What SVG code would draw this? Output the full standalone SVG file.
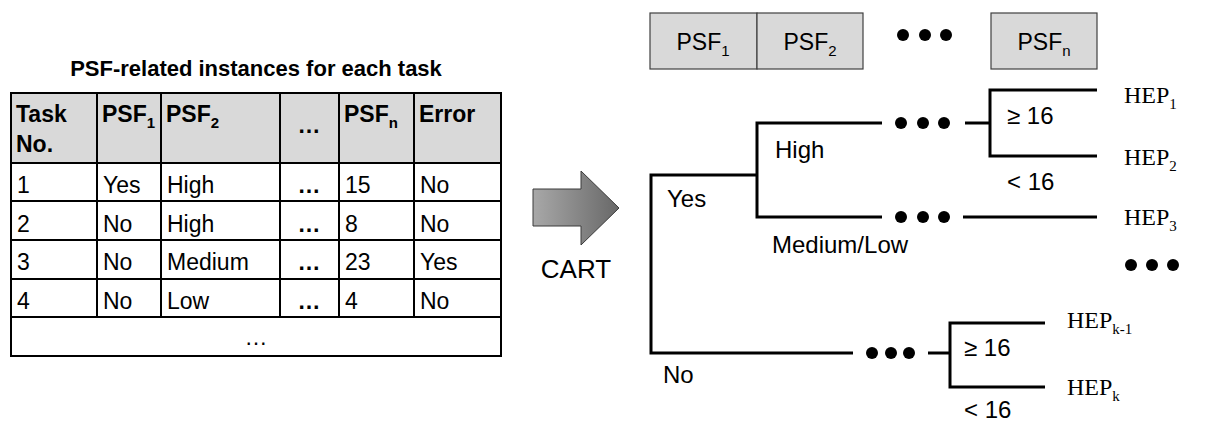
<svg xmlns="http://www.w3.org/2000/svg" width="1206" height="422" viewBox="0 0 1206 422">
<style>
text{font-family:"Liberation Sans",Arial,sans-serif;fill:#000}
.t{font-size:23px}
.b{font-weight:bold}
.ttl{font-size:22px;font-weight:bold}
.lbl{font-size:24px}
.hep{font-family:"Liberation Serif","Times New Roman",serif;font-size:24px}
.sub{font-size:15px}
.grid{stroke:#000;stroke-width:2;fill:none}
.hdr{fill:#d9d9d9}
.box{fill:#d9d9d9;stroke:#404040;stroke-width:1.2}
.ln{stroke:#000;stroke-width:3;fill:none}
.dot{fill:#000}
</style>
<defs>
<linearGradient id="ag" x1="0" y1="0" x2="1" y2="0">
<stop offset="0" stop-color="#a8a8a8"/>
<stop offset="1" stop-color="#686868"/>
</linearGradient>
</defs>
<rect width="1206" height="422" fill="#fff"/>

<g id="table">
<text class="ttl" x="256" y="76" text-anchor="middle">PSF-related instances for each task</text>
<rect class="hdr" x="11" y="93" width="490" height="70"/>
<rect class="grid" x="11" y="93" width="490" height="263"/>
<path class="grid" d="M11,163H501M11,201H501M11,240H501M11,279H501M11,317H501M97,93V317M161,93V317M280,93V317M339,93V317M414,93V317"/>
<text class="t b" x="16" y="122">Task</text>
<text class="t b" x="16" y="152">No.</text>
<text class="t b" x="102" y="122">PSF<tspan class="sub" dy="6">1</tspan></text>
<text class="t b" x="166" y="122">PSF<tspan class="sub" dy="6">2</tspan></text>
<text class="t b" x="309" y="133" text-anchor="middle">…</text>
<text class="t b" x="344" y="122">PSF<tspan class="sub" dy="6">n</tspan></text>
<text class="t b" x="419" y="122">Error</text>

<text class="t" x="17" y="193">1</text>
<text class="t" x="103" y="193">Yes</text>
<text class="t" x="167" y="193">High</text>
<text class="t b" x="309" y="193" text-anchor="middle">…</text>
<text class="t" x="345" y="193">15</text>
<text class="t" x="420" y="193">No</text>

<text class="t" x="17" y="232">2</text>
<text class="t" x="103" y="232">No</text>
<text class="t" x="167" y="232">High</text>
<text class="t b" x="309" y="232" text-anchor="middle">…</text>
<text class="t" x="345" y="232">8</text>
<text class="t" x="420" y="232">No</text>

<text class="t" x="17" y="270">3</text>
<text class="t" x="103" y="270">No</text>
<text class="t" x="167" y="270">Medium</text>
<text class="t b" x="309" y="270" text-anchor="middle">…</text>
<text class="t" x="345" y="270">23</text>
<text class="t" x="420" y="270">Yes</text>

<text class="t" x="17" y="309">4</text>
<text class="t" x="103" y="309">No</text>
<text class="t" x="167" y="309">Low</text>
<text class="t b" x="309" y="309" text-anchor="middle">…</text>
<text class="t" x="345" y="309">4</text>
<text class="t" x="420" y="309">No</text>

<text class="t" x="256" y="345" text-anchor="middle">…</text>
</g>

<g id="cart-arrow">
<polygon points="533,189 581,189 581,171 619,208 581,245 581,226 533,226" fill="url(#ag)" stroke="#3a3a3a" stroke-width="1"/>
<text x="576" y="278" text-anchor="middle" font-size="26">CART</text>
</g>

<g id="psf-header">
<rect class="box" x="650" y="13" width="107" height="56"/>
<rect class="box" x="757" y="13" width="106" height="56"/>
<rect class="box" x="991" y="13" width="106" height="56"/>
<text class="t" x="703" y="50" text-anchor="middle">PSF<tspan class="sub" dy="6">1</tspan></text>
<text class="t" x="810" y="50" text-anchor="middle">PSF<tspan class="sub" dy="6">2</tspan></text>
<text class="t" x="1044" y="50" text-anchor="middle">PSF<tspan class="sub" dy="6">n</tspan></text>
<circle class="dot" cx="903" cy="35" r="6"/>
<circle class="dot" cx="925" cy="35" r="6"/>
<circle class="dot" cx="946" cy="35" r="6"/>
</g>

<g id="connectors">
<path class="ln" d="M853,353H651V175H757"/>
<path class="ln" d="M882,123H757V217H882"/>
<path class="ln" d="M965,123H990"/>
<path class="ln" d="M1097,90H990V156H1097"/>
<path class="ln" d="M963,217H1097"/>
<path class="ln" d="M928,353H950"/>
<path class="ln" d="M1045,323H950V387H1045"/>
</g>

<g id="dots">
<circle class="dot" cx="901" cy="123" r="6"/>
<circle class="dot" cx="923" cy="123" r="6"/>
<circle class="dot" cx="944" cy="123" r="6"/>
<circle class="dot" cx="901" cy="217" r="6"/>
<circle class="dot" cx="923" cy="217" r="6"/>
<circle class="dot" cx="944" cy="217" r="6"/>
<circle class="dot" cx="872" cy="353" r="6"/>
<circle class="dot" cx="891" cy="353" r="6"/>
<circle class="dot" cx="909" cy="353" r="6"/>
<circle class="dot" cx="1131" cy="265" r="6"/>
<circle class="dot" cx="1152" cy="265" r="6"/>
<circle class="dot" cx="1173" cy="265" r="6"/>
</g>

<g id="labels">
<text class="lbl" x="667" y="207">Yes</text>
<text class="lbl" x="775" y="158">High</text>
<text class="lbl" x="772" y="253">Medium/Low</text>
<text class="lbl" x="663" y="383">No</text>
<text class="lbl" x="1007" y="124">≥ 16</text>
<text class="lbl" x="1007" y="190">&lt; 16</text>
<text class="lbl" x="964" y="356">≥ 16</text>
<text class="lbl" x="964" y="418">&lt; 16</text>
</g>

<g id="leaves">
<text class="hep" x="1124" y="103">HEP<tspan class="sub" dy="6">1</tspan></text>
<text class="hep" x="1124" y="165">HEP<tspan class="sub" dy="6">2</tspan></text>
<text class="hep" x="1124" y="225">HEP<tspan class="sub" dy="6">3</tspan></text>
<text class="hep" x="1067" y="328">HEP<tspan class="sub" dy="6">k-1</tspan></text>
<text class="hep" x="1067" y="395">HEP<tspan class="sub" dy="6">k</tspan></text>
</g>
</svg>
